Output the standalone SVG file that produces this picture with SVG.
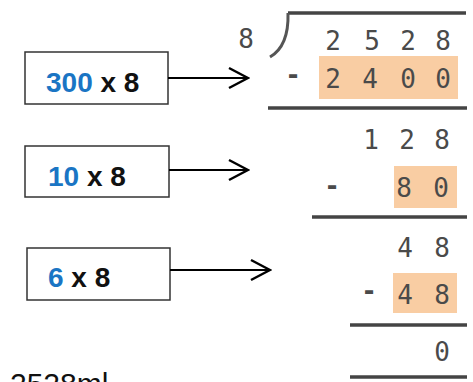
<svg xmlns="http://www.w3.org/2000/svg" width="473" height="382" viewBox="0 0 473 382">
<style>
.box{fill:#fff;stroke:#333;stroke-width:1.5}
.lbl{font-family:"Liberation Sans",Arial,sans-serif;font-weight:bold;font-size:28px;fill:#111}
.blue{fill:#1a75c4}
.dig{font-family:"DejaVu Sans Mono","Liberation Mono",monospace;font-size:26px;fill:#4a4a4a;text-anchor:middle}
.minus{font-weight:bold}
.hl{fill:#f9cda3}
.rule{stroke:#444;stroke-width:3.5;fill:none}
.conn{stroke:#000;stroke-width:2;fill:none}
</style>
<defs>
<marker id="arr" viewBox="0 0 22 24" refX="20" refY="12" markerWidth="22" markerHeight="24" markerUnits="userSpaceOnUse" orient="auto">
<path d="M1,2 L20,12 L1,22" fill="none" stroke="#000" stroke-width="2.5"/>
</marker>
</defs>
<rect width="473" height="382" fill="#fff"/>

<g id="division">
<rect class="hl" x="319" y="56" width="139" height="43"/>
<rect class="hl" x="394" y="166" width="63" height="42"/>
<rect class="hl" x="393" y="273" width="64" height="40"/>
<path d="M288,13 L466,13" class="rule" stroke="#555"/>
<path d="M288,13 Q289,46 270,57" fill="none" stroke="#555" stroke-width="3"/>
<text class="dig" x="246" y="48">8</text>
<text class="dig" x="333" y="50">2</text>
<text class="dig" x="372" y="50">5</text>
<text class="dig" x="408" y="50">2</text>
<text class="dig" x="443" y="50">8</text>
<text class="dig minus" x="293" y="84">-</text>
<text class="dig" x="333" y="88">2</text>
<text class="dig" x="370" y="88">4</text>
<text class="dig" x="408" y="88">0</text>
<text class="dig" x="443" y="88">0</text>
<line class="rule" x1="268" y1="108" x2="467" y2="108"/>
<text class="dig" x="371" y="149">1</text>
<text class="dig" x="407" y="149">2</text>
<text class="dig" x="442" y="149">8</text>
<text class="dig minus" x="332" y="195">-</text>
<text class="dig" x="404" y="197">8</text>
<text class="dig" x="441" y="197">0</text>
<line class="rule" x1="312" y1="217" x2="467" y2="217"/>
<text class="dig" x="405" y="257">4</text>
<text class="dig" x="442" y="257">8</text>
<text class="dig minus" x="369" y="300">-</text>
<text class="dig" x="405" y="304">4</text>
<text class="dig" x="442" y="304">8</text>
<line class="rule" x1="350" y1="325" x2="467" y2="325"/>
<text class="dig" x="442" y="361">0</text>
<line class="rule" x1="350" y1="377" x2="467" y2="377"/>
</g>

<g id="node-300x8">
<rect class="box" x="25" y="52" width="143" height="52"/>
<text class="lbl" x="46" y="92"><tspan class="blue">300</tspan> x 8</text>
</g>
<g id="node-10x8">
<rect class="box" x="25" y="146" width="144" height="51"/>
<text class="lbl" x="48" y="186"><tspan class="blue">10</tspan> x 8</text>
</g>
<g id="node-6x8">
<rect class="box" x="27" y="248" width="143" height="52"/>
<text class="lbl" x="48" y="287"><tspan class="blue">6</tspan> x 8</text>
</g>

<g id="connectors">
<line class="conn" x1="168" y1="78" x2="248" y2="78" marker-end="url(#arr)"/>
<line class="conn" x1="169" y1="170" x2="248" y2="170" marker-end="url(#arr)"/>
<line class="conn" x1="170" y1="270" x2="270" y2="270" marker-end="url(#arr)"/>
</g>

<text x="10" y="394" font-family="'Liberation Sans',Arial,sans-serif" font-size="30" fill="#111">2528ml</text>
</svg>
